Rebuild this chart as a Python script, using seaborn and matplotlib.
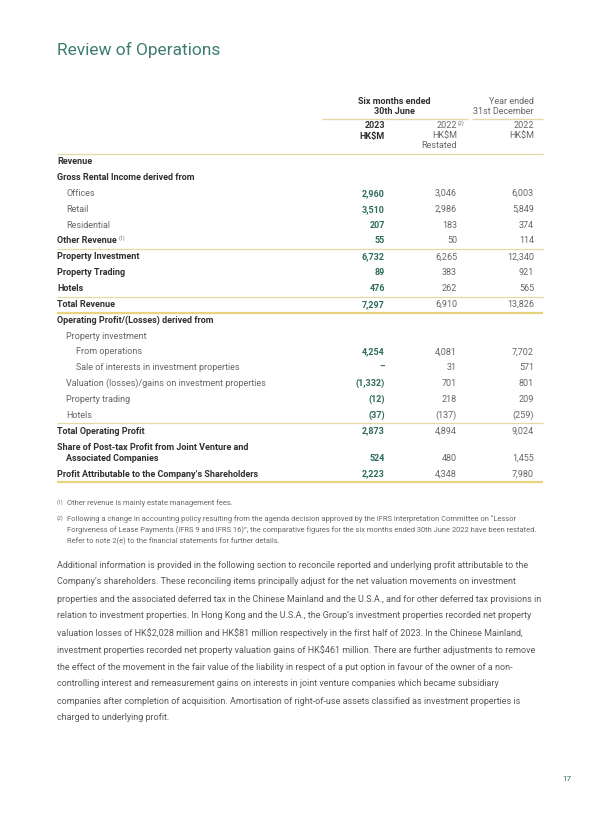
import numpy as np
import pandas as pd
import matplotlib
matplotlib.use("Agg")
import matplotlib.pyplot as plt
import seaborn as sns

# ---------------- data ----------------
labels = [
    "Revenue",
    "Gross Rental Income derived from",
    "Offices",
    "Retail",
    "Residential",
    "Other Revenue",
    "Property Investment",
    "Property Trading",
    "Hotels",
    "Total Revenue",
    "Operating Profit/(Losses) derived from",
    "Property investment",
    "From operations",
    "Sale of interests in investment properties",
    "Valuation (losses)/gains on investment properties",
    "Property trading",
    "Hotels",
    "Total Operating Profit",
    "Share of Post-tax Profit from Joint Venture and\nAssociated Companies",
    "Profit Attributable to the Company\u2019s Shareholders",
]
levels = [0, 0, 1, 1, 1, 0, 0, 0, 0, 0, 0, 1, 2, 2, 1, 1, 1, 0, 0, 0]
bold_rows = [1, 1, 0, 0, 0, 1, 1, 1, 1, 1, 1, 0, 0, 0, 0, 0, 0, 1, 1, 1]
v2023 = [np.nan, np.nan, 2960, 3510, 207, 55, 6732, 89, 476, 7297,
         np.nan, np.nan, 4254, 0, -1332, -12, -37, 2873, 524, 2223]
v2022r = [np.nan, np.nan, 3046, 2986, 183, 50, 6265, 383, 262, 6910,
          np.nan, np.nan, 4081, 31, 701, 218, -137, 4894, 480, 4348]
v2022 = [np.nan, np.nan, 6003, 5849, 374, 114, 12340, 921, 565, 13826,
         np.nan, np.nan, 7702, 571, 801, 209, -259, 9024, 1455, 7980]
thin_rules_after = [5, 8, 16]
thick_rules_after = [9, 19]

footnotes = [
    ("(1)", ["Other revenue is mainly estate management fees."]),
    ("(2)", ["Following a change in accounting policy resulting from the agenda decision approved by the IFRS Interpretation Committee on \u201cLessor",
             "Forgiveness of Lease Payments (IFRS 9 and IFRS 16)\u201d, the comparative figures for the six months ended 30th June 2022 have been restated.",
             "Refer to note 2(e) to the financial statements for further details."]),
]
paragraph = [
    "Additional information is provided in the following section to reconcile reported and underlying profit attributable to the",
    "Company\u2019s shareholders. These reconciling items principally adjust for the net valuation movements on investment",
    "properties and the associated deferred tax in the Chinese Mainland and the U.S.A., and for other deferred tax provisions in",
    "relation to investment properties. In Hong Kong and the U.S.A., the Group\u2019s investment properties recorded net property",
    "valuation losses of HK$2,028 million and HK$81 million respectively in the first half of 2023. In the Chinese Mainland,",
    "investment properties recorded net property valuation gains of HK$461 million. There are further adjustments to remove",
    "the effect of the movement in the fair value of the liability in respect of a put option in favour of the owner of a non-",
    "controlling interest and remeasurement gains on interests in joint venture companies which became subsidiary",
    "companies after completion of acquisition. Amortisation of right-of-use assets classified as investment properties is",
    "charged to underlying profit.",
]

df = pd.DataFrame({"label": labels, "level": levels, "bold": bold_rows,
                   "v2023": v2023, "v2022r": v2022r, "v2022": v2022})

# ---------------- style ----------------
sns.set_theme(style="white")
FAMILY = ["Roboto", "DejaVu Sans"]
plt.rcParams["font.family"] = FAMILY
plt.rcParams["text.parse_math"] = False

TEAL = "#3f7d70"
TEAL_D = "#2d6b5d"
DARK = "#303030"
GREY = "#666666"
PGREY = "#585858"
RULE = "#e4d9a6"
RULE_T = "#e8d47e"

fig = plt.figure(figsize=(6.0, 8.14), dpi=100)
ax = fig.add_axes([0, 0, 1, 1])
ax.set_xlim(0, 600)
ax.set_ylim(814, 0)
ax.axis("off")
renderer = fig.canvas.get_renderer()


def fit_size(text, target_px, weight="normal"):
    size = 10.0
    for _ in range(3):
        t = fig.text(0, 0, text, fontsize=size, fontweight=weight)
        w = t.get_window_extent(renderer).width
        t.remove()
        size = size * target_px / w
    return size


X0, X1 = 57, 543
COLS = [385, 457, 534]
INDENT = 9.5

FS = fit_size("Valuation (losses)/gains on investment properties", 199)
FS_T = fit_size("Review of Operations", 163)
FS_P = fit_size(paragraph[2], 482)
FS_F = fit_size(footnotes[1][1][1], 469)
FS_SUP = FS * 0.58


def fmt(v):
    if np.isnan(v):
        return ""
    if v == 0:
        return "\u2013"
    if v < 0:
        return f"({abs(int(v)):,})"
    return f"{int(v):,}"

# title
ax.text(X0, 50, "Review of Operations", fontsize=FS_T, color=TEAL,
        fontweight="normal", va="center", ha="left")

# headers
ax.text(394, 101, "Six months ended", fontsize=FS, fontweight="bold", color=DARK, ha="center", va="center")
ax.text(394, 111, "30th June", fontsize=FS, fontweight="bold", color=DARK, ha="center", va="center")
ax.text(COLS[2], 101, "Year ended", fontsize=FS, color=GREY, ha="right", va="center")
ax.text(COLS[2], 111, "31st December", fontsize=FS, color=GREY, ha="right", va="center")
ax.plot([322, 468], [118.5, 118.5], color=RULE, lw=1.0, solid_capstyle="butt")
ax.plot([472, X1], [118.5, 118.5], color=RULE, lw=1.0, solid_capstyle="butt")

ax.text(COLS[0], 126, "2023", fontsize=FS, fontweight="bold", color=DARK, ha="right", va="center")
ax.text(COLS[0], 136, "HK$M", fontsize=FS, fontweight="bold", color=DARK, ha="right", va="center")
ax.text(COLS[1], 126, "2022", fontsize=FS, color=GREY, ha="right", va="center")
ax.text(COLS[1] + 0.8, 123.5, "(2)", fontsize=FS_SUP, color=GREY, ha="left", va="center")
ax.text(COLS[1], 136, "HK$M", fontsize=FS, color=GREY, ha="right", va="center")
ax.text(COLS[1], 146, "Restated", fontsize=FS, color=GREY, ha="right", va="center")
ax.text(COLS[2], 126, "2022", fontsize=FS, color=GREY, ha="right", va="center")
ax.text(COLS[2], 136, "HK$M", fontsize=FS, color=GREY, ha="right", va="center")
ax.plot([X0, X1], [153.5, 153.5], color=RULE, lw=0.9, solid_capstyle="butt")

# rows
STEP = 15.85
LINE2 = 11.2
y = 161.7
row_y = []
for i, r in df.iterrows():
    parts = r["label"].split("\n")
    weight = "bold" if r["bold"] else "normal"
    colr = DARK if r["bold"] else GREY
    for k, p in enumerate(parts):
        xx = X0 + INDENT * (r["level"] + (1 if k > 0 else 0))
        t = ax.text(xx, y + k * LINE2, p, fontsize=FS, fontweight=weight,
                    color=colr, ha="left", va="center")
    ylast = y + (len(parts) - 1) * LINE2
    if r["label"] == "Other Revenue":
        bb = t.get_window_extent(renderer)
        ax.text(bb.x1 + 2, ylast - 2.5, "(1)", fontsize=FS_SUP, color=GREY,
                ha="left", va="center")
    ax.text(COLS[0], ylast, fmt(r["v2023"]), fontsize=FS, fontweight="bold",
            color=TEAL_D, ha="right", va="center")
    ax.text(COLS[1], ylast, fmt(r["v2022r"]), fontsize=FS, color=GREY,
            ha="right", va="center")
    ax.text(COLS[2], ylast, fmt(r["v2022"]), fontsize=FS, color=GREY,
            ha="right", va="center")
    row_y.append(ylast)
    y = ylast + STEP

for i in thin_rules_after:
    yy = row_y[i] + 8
    ax.plot([X0, X1], [yy, yy], color=RULE, lw=0.9, solid_capstyle="butt")
for i in thick_rules_after:
    yy = row_y[i] + 8.3
    ax.plot([X0, X1], [yy, yy], color=RULE_T, lw=1.6, solid_capstyle="butt")

# footnotes
fy = 503
for mark, lines in footnotes:
    ax.text(X0, fy - 0.5, mark, fontsize=FS_SUP, color=GREY, ha="left", va="center")
    for ln in lines:
        ax.text(X0 + 10, fy, ln, fontsize=FS_F, color=GREY, ha="left", va="center")
        fy += 11
    fy += 5

# paragraph
py = 565
for ln in paragraph:
    ax.text(X0, py, ln, fontsize=FS_P, color=PGREY, ha="left", va="center")
    py += 17

# page number
ax.text(567, 779, "17", fontsize=FS * 0.9, color=TEAL_D, ha="center", va="center")

fig.savefig("out.png", dpi=100)
